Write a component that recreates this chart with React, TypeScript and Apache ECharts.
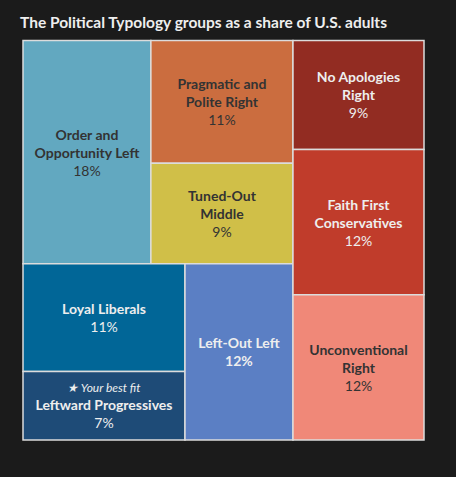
import React, { useEffect, useRef } from "react";
import * as echarts from "echarts";

// ---- data ----
const groups = [
  "Order and\nOpportunity Left",
  "Pragmatic and\nPolite Right",
  "Tuned-Out\nMiddle",
  "Loyal Liberals",
  "Leftward Progressives",
  "Left-Out Left",
  "No Apologies\nRight",
  "Faith First\nConservatives",
  "Unconventional\nRight",
];
const shares = [18, 11, 9, 11, 7, 12, 9, 12, 12];
const colors = [
  "#62a8c0",
  "#cb6d3f",
  "#d0bf48",
  "#016697",
  "#1e4b77",
  "#5b7fc4",
  "#922c22",
  "#c03c2b",
  "#f08878",
];
const bestFitIndex = 4;
const darkTextIndex = 2;
const boldShareIndex = 5;

// slice-and-dice structure (indices into the arrays above)
type Node = number | { dir: "h" | "v"; children: Node[] };
const tree: Node = {
  dir: "h",
  children: [
    {
      dir: "v",
      children: [
        { dir: "h", children: [0, { dir: "v", children: [1, 2] }] },
        { dir: "h", children: [{ dir: "v", children: [3, 4] }, 5] },
      ],
    },
    { dir: "v", children: [6, 7, 8] },
  ],
};

function total(n: Node): number {
  if (typeof n === "number") return shares[n];
  return n.children.reduce((s, c) => s + total(c), 0);
}

function layout(n: Node, x0: number, y0: number, x1: number, y1: number, out: number[][]) {
  if (typeof n === "number") {
    out[n] = [x0, y0, x1, y1, shares[n]];
    return;
  }
  const t = total(n);
  let acc = 0;
  n.children.forEach((c) => {
    const v = total(c);
    if (n.dir === "h") {
      const a = x0 + ((x1 - x0) * acc) / t;
      const b = x0 + ((x1 - x0) * (acc + v)) / t;
      layout(c, a, y0, b, y1, out);
    } else {
      const a = y0 + ((y1 - y0) * acc) / t;
      const b = y0 + ((y1 - y0) * (acc + v)) / t;
      layout(c, x0, a, x1, b, out);
    }
    acc += v;
  });
}

const labelFont = "Lato, 'Noto Sans', sans-serif";

export default function App() {
  const ref = useRef<HTMLDivElement>(null);
  useEffect(() => {
    document.body.style.margin = "0";
    document.body.style.background = "#1b1b1b";
    const rects: number[][] = [];
    layout(tree, 0, 0, 1, 1, rects);
    const chart = echarts.init(ref.current!, null, { renderer: "svg" });
    chart.setOption({
      animation: false,
      backgroundColor: "#1b1b1b",
      title: {
        text: "The Political Typology groups as a share of U.S. adults",
        left: 15,
        top: 9,
        textStyle: {
          color: "#eeeeee",
          fontSize: 15.5,
          fontWeight: "bold",
          fontFamily: labelFont,
        },
      },
      grid: { left: 23, top: 40.5, width: 401, height: 399.5 },
      xAxis: { type: "value", min: 0, max: 1, show: false },
      yAxis: { type: "value", min: 0, max: 1, inverse: true, show: false },
      series: [
        {
          type: "custom",
          coordinateSystem: "cartesian2d",
          encode: { x: [0, 2], y: [1, 3] },
          data: rects,
          renderItem: (params: any, api: any) => {
            const i = params.dataIndex;
            const p0 = api.coord([api.value(0), api.value(1)]);
            const p1 = api.coord([api.value(2), api.value(3)]);
            const x = Math.min(p0[0], p1[0]);
            const y = Math.min(p0[1], p1[1]);
            const w = Math.abs(p1[0] - p0[0]);
            const h = Math.abs(p1[1] - p0[1]);
            const txtColor = i === darkTextIndex ? "#2b2b2b" : "#ffffff";
            let text = `{name|${groups[i]}}\n{${i === boldShareIndex ? "pctb" : "pct"}|${api.value(4)}%}`;
            if (i === bestFitIndex) text = `{fit|★ Your best fit}\n` + text;
            return {
              type: "rect",
              shape: { x, y, width: w, height: h },
              style: { fill: colors[i], stroke: "#dcdcdc", lineWidth: 1.5 },
              textContent: {
                style: {
                  text,
                  align: "center",
                  verticalAlign: "middle",
                  rich: {
                    name: {
                      fontFamily: labelFont,
                      fontSize: 14,
                      fontWeight: "bold",
                      lineHeight: 18,
                      color: txtColor,
                      align: "center",
                    },
                    pct: {
                      fontFamily: labelFont,
                      fontSize: 14,
                      lineHeight: 18,
                      color: txtColor,
                      align: "center",
                    },
                    pctb: {
                      fontFamily: labelFont,
                      fontSize: 14,
                      fontWeight: "bold",
                      lineHeight: 18,
                      color: txtColor,
                      align: "center",
                    },
                    fit: {
                      fontFamily: labelFont,
                      fontSize: 12,
                      fontStyle: "italic",
                      lineHeight: 16,
                      color: "#e6e6e6",
                      align: "center",
                    },
                  },
                },
              },
              textConfig: { position: "inside" },
            };
          },
        },
      ],
    });
    return () => chart.dispose();
  }, []);
  return <div ref={ref} style={{ width: 456, height: 477 }} />;
}
